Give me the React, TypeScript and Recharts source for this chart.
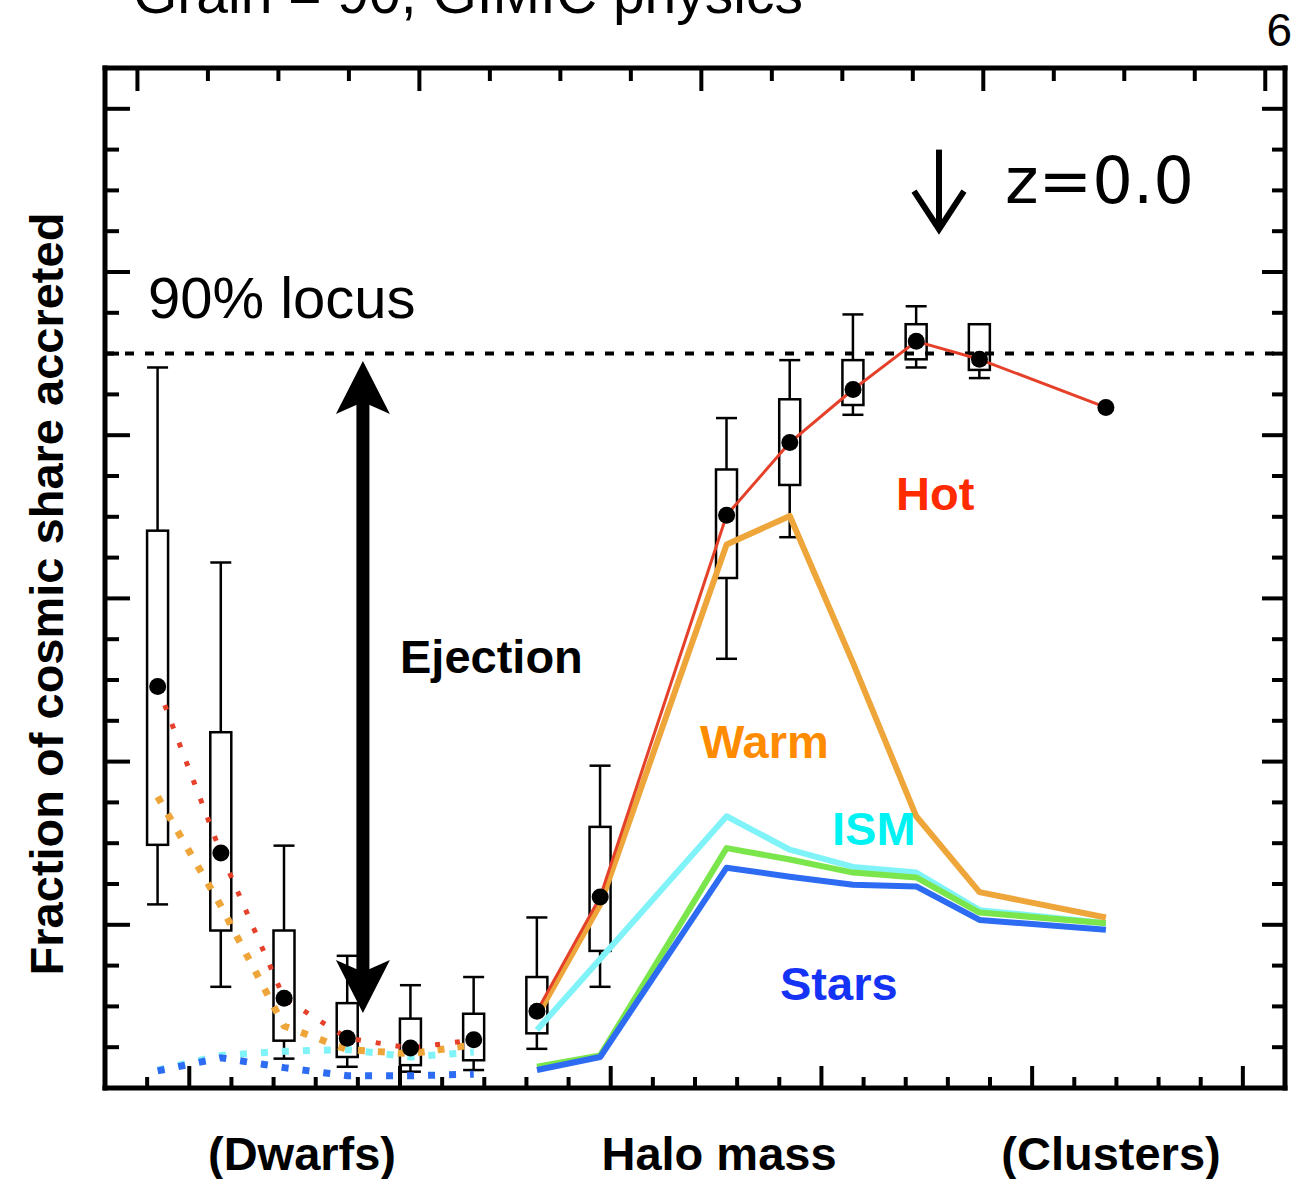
import {
  ComposedChart,
  Bar,
  Line,
  Scatter,
  XAxis,
  YAxis,
  ReferenceLine,
} from "recharts";

// ── Data ───────────────────────────────────────────────────────────
// log halo mass bin centres
const massBins = [8.85, 9.15, 9.45, 9.75, 10.05, 10.35, 10.65, 10.95, 11.55, 11.85, 12.15, 12.45, 12.75, 13.35];

// box plot of the total accreted fraction (last bin has a point only)
const whiskerHigh = [0.883, 0.644, 0.297, 0.162, 0.126, 0.136, 0.209, 0.395, 0.821, 0.892, 0.948, 0.958, 0.936, null];
const boxHigh = [0.683, 0.436, 0.193, 0.104, 0.085, 0.091, 0.136, 0.32, 0.758, 0.844, 0.892, 0.936, 0.936, null];
const medians = [0.492, 0.288, 0.11, 0.061, 0.049, 0.059, 0.094, 0.234, 0.702, 0.791, 0.856, 0.915, 0.893, 0.834];
const boxLow = [0.298, 0.193, 0.058, 0.038, 0.028, 0.034, 0.067, 0.168, 0.625, 0.739, 0.837, 0.893, 0.88, null];
const whiskerLow = [0.225, 0.124, 0.036, 0.026, 0.02, 0.022, 0.048, 0.124, 0.526, 0.675, 0.825, 0.883, 0.87, null];

// phases, dwarf range (dotted)
const hotDwarf = [0.492, 0.288, 0.11, 0.061, 0.049, 0.059, null, null, null, null, null, null, null, null];
const warmDwarf = [0.357, 0.223, 0.076, 0.047, 0.042, 0.053, null, null, null, null, null, null, null, null];
const ismDwarf = [0.022, 0.04, 0.045, 0.047, 0.038, 0.044, null, null, null, null, null, null, null, null];
const starsDwarf = [0.021, 0.037, 0.025, 0.015, 0.015, 0.017, null, null, null, null, null, null, null, null];

// phases, massive haloes (solid)
const hotSolid = [null, null, null, null, null, null, 0.094, 0.234, 0.702, 0.791, 0.856, 0.915, 0.893, 0.834];
const warmSolid = [null, null, null, null, null, null, 0.088, 0.225, 0.666, 0.701, 0.521, 0.333, 0.24, 0.209];
const ismSolid = [null, null, null, null, null, null, 0.071, 0.158, 0.333, 0.292, 0.271, 0.264, 0.218, 0.202];
const gasSolid = [null, null, null, null, null, null, 0.026, 0.04, 0.294, 0.28, 0.264, 0.258, 0.215, 0.202];
const starsSolid = [null, null, null, null, null, null, 0.022, 0.038, 0.27, 0.259, 0.249, 0.247, 0.206, 0.194];

// axes
const xDomain = [8.6, 14.2];
const xTicks = [8.8, 9, 9.2, 9.4, 9.6, 9.8, 10, 10.2, 10.4, 10.6, 10.8, 11, 11.2, 11.4, 11.6, 11.8, 12, 12.2, 12.4, 12.6, 12.8, 13, 13.2, 13.4, 13.6, 13.8, 14];
// top axis has its own linear scale spanning the same frame
const topDomain = [-0.115, 4.07];
const topTicks = [0, 0.25, 0.5, 0.75, 1, 1.25, 1.5, 1.75, 2, 2.25, 2.5, 2.75, 3, 3.25, 3.5, 3.75, 4];
const yDomain = [0, 1.25];
const yTicks = [0.05, 0.1, 0.15, 0.2, 0.25, 0.3, 0.35, 0.4, 0.45, 0.5, 0.55, 0.6, 0.65, 0.7, 0.75, 0.8, 0.85, 0.9, 0.95, 1, 1.05, 1.1, 1.15, 1.2];

const locus = 0.9;
const ejection = { x: 9.824, top: 0.891, bottom: 0.092 };
const redshiftArrow = { x: 12.558, top: 1.15, bottom: 1.05 };

// top-axis value -> halo mass units, so both axes share one frame
const topToMass = (u: number) =>
  xDomain[0] + ((u - topDomain[0]) * (xDomain[1] - xDomain[0])) / (topDomain[1] - topDomain[0]);
const topTicksInMass = topTicks.map(topToMass);
const topMajorInMass = new Set(topTicks.filter((u) => Number.isInteger(u)).map(topToMass));

const rows = massBins.map((mass, i) => ({
  mass,
  lo: whiskerLow[i],
  q1: boxLow[i],
  median: medians[i],
  q3: boxHigh[i],
  hi: whiskerHigh[i],
  hotDwarf: hotDwarf[i],
  warmDwarf: warmDwarf[i],
  ismDwarf: ismDwarf[i],
  starsDwarf: starsDwarf[i],
  hotSolid: hotSolid[i],
  warmSolid: warmSolid[i],
  ismSolid: ismSolid[i],
  gasSolid: gasSolid[i],
  starsSolid: starsSolid[i],
}));

// ── Styling ────────────────────────────────────────────────────────
const RED = "#e5412a";
const ORANGE = "#eea63a";
const CYAN = "#80f3f8";
const GREEN = "#7ae64b";
const BLUE = "#2d6cf2";
const SANS = "'Liberation Sans', Arial, Helvetica, sans-serif";

const axisLine = { stroke: "#000", strokeWidth: 5, strokeLinecap: "square" as const };

// inward tick marks, long on the major values
function tickMark(side: "bottom" | "top" | "left" | "right", isMajor: (v: number) => boolean, major: number, minor: number) {
  return (p: any) => {
    const len = isMajor(p.payload.value) ? major : minor;
    const { x, y } = p;
    let x2 = x;
    let y2 = y;
    if (side === "bottom") y2 = y - len;
    if (side === "top") y2 = y + len;
    if (side === "left") x2 = x + len;
    if (side === "right") x2 = x - len;
    return <line x1={x} y1={y} x2={x2} y2={y2} stroke="#000" strokeWidth={4} />;
  };
}

const wholeNumber = (v: number) => Math.abs(v - Math.round(v)) < 1e-6;
const fifth = (v: number) => Math.abs(v * 5 - Math.round(v * 5)) < 1e-6;
const topMajor = (v: number) => [...topMajorInMass].some((m) => Math.abs(m - v) < 1e-6);

// Box + whiskers; the bar spans [lo, hi] so the scale is recovered from it
function BoxGlyph(props: any) {
  const { x, y, width, height, payload } = props;
  if (!payload || payload.lo == null) return null;
  const top = Math.min(y, y + height);
  const k = Math.abs(height) / (payload.hi - payload.lo);
  const py = (v: number) => top + (payload.hi - v) * k;
  const cx = x + width / 2;
  const half = width / 2;
  return (
    <g stroke="#000" strokeWidth={2.5}>
      <line x1={cx} x2={cx} y1={py(payload.hi)} y2={py(payload.lo)} />
      <line x1={cx - half} x2={cx + half} y1={py(payload.hi)} y2={py(payload.hi)} />
      <line x1={cx - half} x2={cx + half} y1={py(payload.lo)} y2={py(payload.lo)} />
      <rect x={cx - half} y={py(payload.q3)} width={width} height={py(payload.q1) - py(payload.q3)} fill="#fff" />
    </g>
  );
}

function MedianDot(props: any) {
  const { cx, cy } = props;
  if (cx == null || cy == null) return null;
  return <circle cx={cx} cy={cy} r={8.5} fill="#000" />;
}

function DoubleArrow(props: any) {
  const { x1, y1, y2 } = props;
  const top = Math.min(y1, y2);
  const bottom = Math.max(y1, y2);
  const hw = 27;
  const hh = 53;
  const notch = 41;
  return (
    <g fill="#000">
      <rect x={x1 - 6.5} y={top + notch - 2} width={13} height={bottom - top - 2 * notch + 4} />
      <path d={`M${x1},${top} L${x1 + hw},${top + hh} L${x1},${top + notch} L${x1 - hw},${top + hh} Z`} />
      <path d={`M${x1},${bottom} L${x1 + hw},${bottom - hh} L${x1},${bottom - notch} L${x1 - hw},${bottom - hh} Z`} />
    </g>
  );
}

function DownArrow(props: any) {
  const { x1, y1, y2 } = props;
  const top = Math.min(y1, y2);
  const bottom = Math.max(y1, y2);
  return (
    <g stroke="#000" strokeWidth={6} fill="none" strokeLinejoin="miter">
      <line x1={x1} x2={x1} y1={top} y2={bottom - 3} />
      <polyline points={`${x1 - 25},${bottom - 40} ${x1},${bottom - 2} ${x1 + 25},${bottom - 40}`} />
    </g>
  );
}

const dotted = (stroke: string, w: number, dash: string) => ({
  stroke,
  strokeWidth: w,
  strokeDasharray: dash,
  dot: false,
  activeDot: false,
  isAnimationActive: false,
  type: "linear" as const,
});

const solid = (stroke: string, w: number) => ({
  stroke,
  strokeWidth: w,
  dot: false,
  activeDot: false,
  isAnimationActive: false,
  type: "linear" as const,
  strokeLinejoin: "round" as const,
});

export default function App() {
  return (
    <div style={{ position: "relative", width: 1303, height: 1179, background: "#fff" }}>
      <style>{"body{margin:0;background:#fff}"}</style>
      <ComposedChart width={1303} height={1179} data={rows} margin={{ top: 68, right: 18, bottom: 91, left: 105 }}>
        <XAxis
          dataKey="mass"
          type="number"
          domain={xDomain}
          allowDataOverflow
          ticks={xTicks}
          interval={0}
          mirror
          tickSize={0}
          tickMargin={0}
          tickLine={false}
          axisLine={axisLine}
          tick={tickMark("bottom", wholeNumber, 22, 11)}
        />
        <XAxis
          xAxisId="top"
          dataKey="mass"
          orientation="top"
          type="number"
          domain={xDomain}
          allowDataOverflow
          ticks={topTicksInMass}
          interval={0}
          mirror
          tickSize={0}
          tickMargin={0}
          tickLine={false}
          axisLine={axisLine}
          tick={tickMark("top", topMajor, 23, 13)}
        />
        <YAxis
          type="number"
          domain={yDomain}
          allowDataOverflow
          ticks={yTicks}
          interval={0}
          mirror
          tickSize={0}
          tickMargin={0}
          tickLine={false}
          axisLine={axisLine}
          tick={tickMark("left", fifth, 25, 14)}
        />
        <YAxis
          yAxisId="right"
          orientation="right"
          type="number"
          domain={yDomain}
          allowDataOverflow
          ticks={yTicks}
          interval={0}
          mirror
          tickSize={0}
          tickMargin={0}
          tickLine={false}
          axisLine={axisLine}
          tick={tickMark("right", fifth, 23, 13)}
        />

        <Bar dataKey={(d: any) => (d.lo == null ? null : [d.lo, d.hi])} barSize={21} shape={BoxGlyph} isAnimationActive={false} />

        <ReferenceLine y={locus} stroke="#000" strokeWidth={4} strokeDasharray="9 11" />

        <Line dataKey="ismDwarf" {...dotted(CYAN, 7, "7 14")} />
        <Line dataKey="starsDwarf" {...dotted(BLUE, 7, "7 14")} />
        <Line dataKey="warmDwarf" {...dotted(ORANGE, 7, "7 13")} />
        <Line dataKey="hotDwarf" {...dotted(RED, 5, "5 15")} />

        <Line dataKey="ismSolid" {...solid(CYAN, 6)} />
        <Line dataKey="gasSolid" {...solid(GREEN, 6)} />
        <Line dataKey="starsSolid" {...solid(BLUE, 6)} />
        <Line dataKey="warmSolid" {...solid(ORANGE, 6)} />
        <Line dataKey="hotSolid" {...solid(RED, 3)} />

        <Scatter dataKey="median" shape={MedianDot} isAnimationActive={false} />

        <ReferenceLine
          segment={[
            { x: ejection.x, y: ejection.top },
            { x: ejection.x, y: ejection.bottom },
          ]}
          shape={DoubleArrow}
        />
        <ReferenceLine
          segment={[
            { x: redshiftArrow.x, y: redshiftArrow.top },
            { x: redshiftArrow.x, y: redshiftArrow.bottom },
          ]}
          shape={DownArrow}
        />
      </ComposedChart>

      <svg width={1303} height={1179} style={{ position: "absolute", left: 0, top: 0, pointerEvents: "none" }}>
        <g fontFamily={SANS}>
          <text x={133} y={13} fontSize={57}>Grain = 90, GIMIC physics</text>
          <text x={1292} y={46} fontSize={46} textAnchor="end">6</text>
          <text x={148} y={318} fontSize={58}>90% locus</text>
          <text x={1005} y={203} fontSize={64} fontFamily="'DejaVu Sans', sans-serif">z=0.0</text>
          <g fontWeight="bold" fontSize={47}>
            <text x={400} y={673}>Ejection</text>
            <text x={896} y={510} fill="#ff2a00">Hot</text>
            <text x={700} y={758} fill="#ff8c00">Warm</text>
            <text x={832} y={845} fill="#00f2f2">ISM</text>
            <text x={780} y={1000} fill="#1533f5">Stars</text>
            <text transform="translate(63,594) rotate(-90)" textAnchor="middle">Fraction of cosmic share accreted</text>
            <text x={302} y={1170} textAnchor="middle">(Dwarfs)</text>
            <text x={719} y={1170} textAnchor="middle">Halo mass</text>
            <text x={1111} y={1170} textAnchor="middle">(Clusters)</text>
          </g>
        </g>
      </svg>
    </div>
  );
}
